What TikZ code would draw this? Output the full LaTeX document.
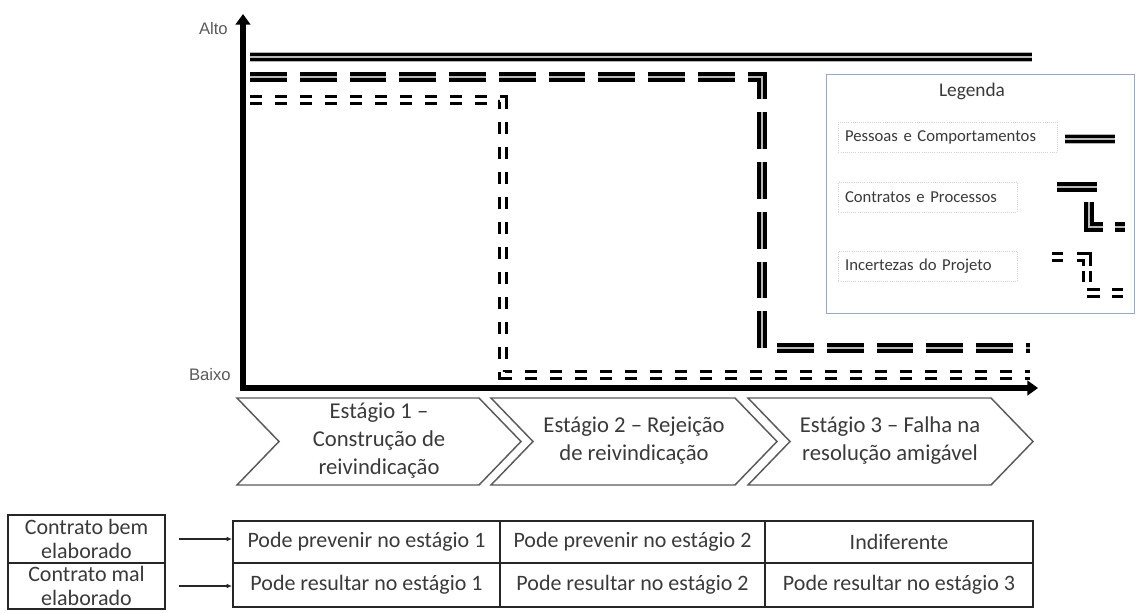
\documentclass[tikz,border=0pt]{standalone}
\usepackage{fontspec}
\setmainfont{Carlito}
\newfontfamily\axisfont{Liberation Sans}
\usetikzlibrary{arrows.meta}

\definecolor{txt}{HTML}{3A3A3A}
\definecolor{frame}{HTML}{5A5A5A}
\definecolor{legframe}{HTML}{98A8C4}

\begin{document}
\begin{tikzpicture}[x=0.75pt,y=-0.75pt,
  axis/.style={line width=4.5pt, draw=black, line join=miter,
    {Triangle[length=8pt,width=11pt]}-{Triangle[length=8pt,width=11pt]}},
  peoplehalo/.style={draw=gray!60, line width=7.2pt},
  people/.style={draw=black, line width=1.9pt, double=gray!55, double distance=1.5pt},
  contractline/.style={draw=black, line width=2.9pt, double=gray!55, double distance=1.5pt},
  contracts/.style={contractline, dash pattern=on 27.56pt off 9.75pt},
  uncertline/.style={draw=black, line width=2.5pt, double=white, double distance=2.4pt},
  uncert/.style={uncertline, dash pattern=on 9pt off 9.75pt},
  chev/.style={draw=frame, line width=1.1pt, fill=white, line join=miter},
  chevtext/.style={text=txt, align=center, font=\fontsize{17}{21}\selectfont},
  cell/.style={draw=black!85, line width=1.4pt, text=txt, align=center,
    font=\fontsize{16.5}{17.5}\selectfont, inner sep=0pt},
  conn/.style={draw=black!85, line width=1.1pt, -{Latex[length=4pt,width=3.5pt]}},
  axislbl/.style={text=black!65, font=\axisfont\fontsize{12.5}{14}\selectfont, inner sep=0pt},
  legbox/.style={draw=legframe, line width=1.1pt, fill=white},
  lbl/.style={draw=gray!35, densely dotted, line width=0.6pt, fill=white, text=txt,
    font=\fontsize{12.5}{15}\selectfont, align=left, inner xsep=5pt,
    minimum height=22.5pt, anchor=west},
]
\useasboundingbox (0,0) rectangle (1138,612);

% axes
\draw[axis] (243,14) -- (243,388) -- (1038,388);
\node[axislbl, anchor=east] (alto) at (228,29) {Alto};
\node[axislbl, anchor=east] (baixo) at (231,375) {Baixo};

% people and behaviour: stays high all the way
\draw[peoplehalo] (250,57) -- (1032,57);
\draw[people] (250,57) -- (1032,57);

% contracts and processes: drops at the third stage
\draw[contracts] (762,348) -- (762,77) -- (250,77);
\draw[contracts] (777,348) -- (1030,348);

% project uncertainties: drops at the second stage
\draw[uncert] (250,100) -- (503,100) -- (503,375) -- (1030,375);

% legend
\node[legbox, minimum width=231pt, minimum height=179.25pt, anchor=north west] (leg) at (826,74) {};
\node[text=txt, font=\fontsize{14.5}{17}\selectfont] (legt) at (972,91) {Legenda};
\node[lbl, text width=154pt] (lp) at (838,137) {Pessoas e Comportamentos};
\node[lbl, text width=124pt] (lc) at (838,197) {Contratos e Processos};
\node[lbl, text width=124pt] (li) at (838,266) {Incertezas do Projeto};

\draw[peoplehalo] (1065,139) -- (1115,139);
\draw[people] (1065,139) -- (1115,139);

\draw[contractline] (1057,187) -- (1097,187);
\draw[contractline, line join=miter] (1089,202) -- (1089,227) -- (1103,227);
\draw[contractline] (1115,227) -- (1125,227);

\draw[uncertline] (1052,257) -- (1063,257);
\draw[uncertline, line join=miter] (1077,257) -- (1087,257) -- (1087,266);
\draw[uncertline] (1087,271) -- (1087,282);
\draw[uncertline] (1087,293) -- (1100,293);
\draw[uncertline] (1112,293) -- (1123,293);

% stages
\draw[chev] (237,398) -- (479,398) -- (521,441.5) -- (479,485) -- (237,485) -- (279,441.5) -- cycle;
\draw[chev] (491,398) -- (735,398) -- (777,441.5) -- (735,485) -- (491,485) -- (533,441.5) -- cycle;
\draw[chev] (748,398) -- (991,398) -- (1033,441.5) -- (991,485) -- (748,485) -- (790,441.5) -- cycle;
\node[chevtext] (s1) at (379,441) {Estágio 1 –\\Construção de\\reivindicação};
\node[chevtext] (s2) at (634,441) {Estágio 2 – Rejeição\\de reivindicação};
\node[chevtext] (s3) at (890,441) {Estágio 3 – Falha na\\resolução amigável};

% contract quality table
\node[cell, minimum width=117.75pt, minimum height=36pt] (lb1) at (86.5,539) {Contrato bem\\elaborado};
\node[cell, minimum width=117.75pt, minimum height=34.5pt] (lb2) at (86.5,586) {Contrato mal\\elaborado};

\node[cell, minimum width=200.25pt, minimum height=31.5pt] (t11) at (366.5,542) {Pode prevenir no estágio 1};
\node[cell, minimum width=198.75pt, minimum height=31.5pt] (t12) at (632.5,542) {Pode prevenir no estágio 2};
\node[cell, minimum width=201pt, minimum height=31.5pt] (t13) at (899,542) {Indiferente};
\node[cell, minimum width=200.25pt, minimum height=33pt] (t21) at (366.5,585) {Pode resultar no estágio 1};
\node[cell, minimum width=198.75pt, minimum height=33pt] (t22) at (632.5,585) {Pode resultar no estágio 2};
\node[cell, minimum width=201pt, minimum height=33pt] (t23) at (899,585) {Pode resultar no estágio 3};

\draw[conn, shorten <=9.75pt] (lb1.east) -- (lb1.east -| t11.west);
\draw[conn, shorten <=9.75pt] (lb2.east) -- (lb2.east -| t21.west);
\end{tikzpicture}
\end{document}
